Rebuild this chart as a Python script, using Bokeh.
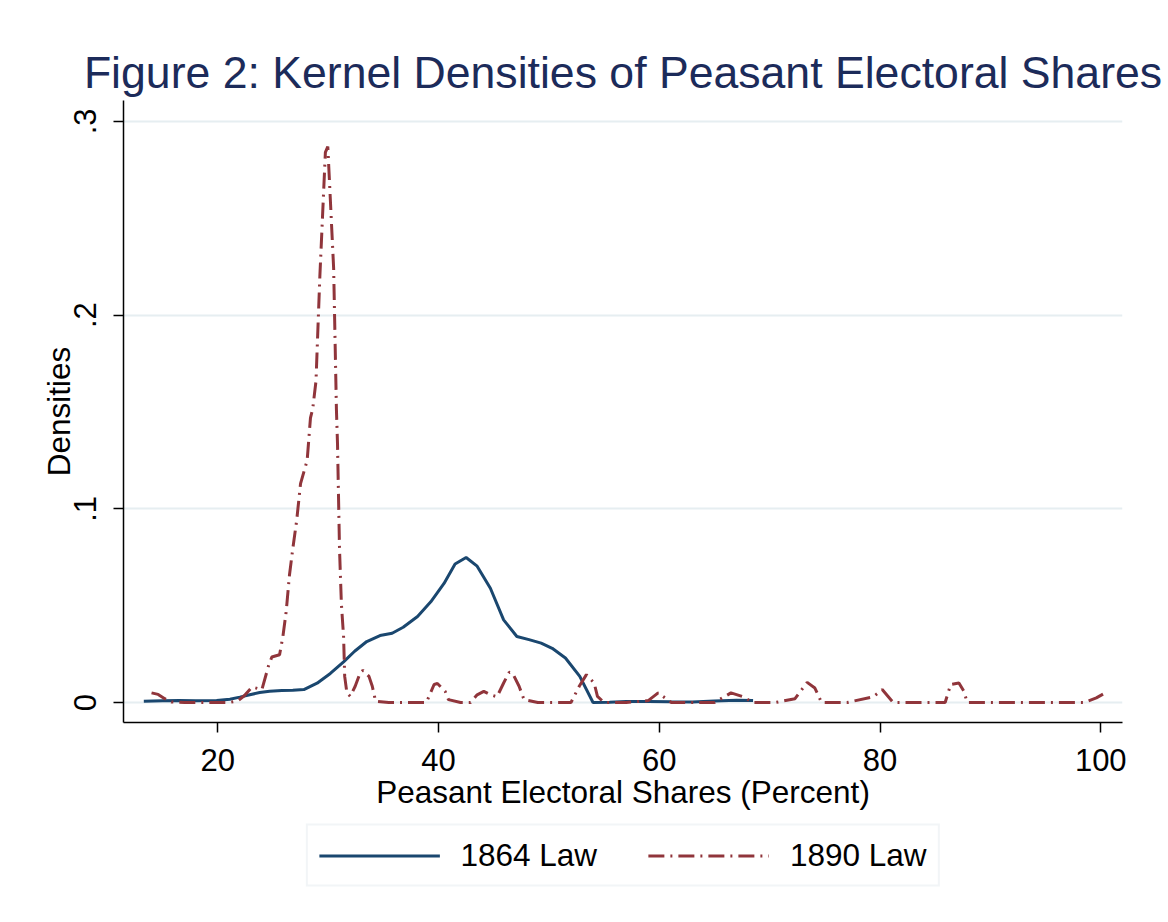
from bokeh.plotting import figure
from bokeh.models import Range1d, FixedTicker, Legend
from bokeh.layouts import column
from bokeh.embed import file_html
from bokeh.resources import INLINE

# ---- data ----
x_1864 = [13.3, 15.0, 16.5, 18.0, 19.9, 21.1, 22.0, 22.9, 23.8, 24.7, 25.8, 26.8, 27.8,
          29.0, 30.2, 31.4, 32.4, 33.5, 34.7, 35.8, 36.8, 38.1, 39.3, 40.5, 41.5, 42.5,
          43.5, 44.7, 45.9, 47.1, 48.2, 49.3, 50.3, 51.5, 52.8, 54.0, 55.5, 57.0, 59.0,
          61.0, 63.0, 65.0, 67.0, 68.5]
d_1864 = [0.0007, 0.0009, 0.0010, 0.0009, 0.0010, 0.0017, 0.0028, 0.0040, 0.0052, 0.0058,
          0.0062, 0.0064, 0.0067, 0.0100, 0.0150, 0.0210, 0.0265, 0.0315, 0.0346, 0.0358,
          0.0389, 0.0444, 0.0520, 0.0615, 0.0715, 0.0749, 0.0704, 0.0590, 0.0427, 0.0341,
          0.0325, 0.0307, 0.0280, 0.0230, 0.0135, 0.0, 0.0002, 0.0005, 0.0006, 0.0004,
          0.0003, 0.0008, 0.0012, 0.0010]

x_1890 = [14.0, 14.6, 15.2, 15.8, 17.0, 19.0, 21.0, 21.8, 22.4, 23.1, 24.0, 24.6, 24.9,
          25.6, 25.9, 26.2, 26.5, 26.8, 27.15, 27.5, 28.1, 28.4, 28.6, 28.9, 29.1, 29.25,
          29.75, 29.97, 30.5, 30.75, 30.85, 31.03, 31.2, 31.4, 31.5, 31.7, 32.0, 32.45,
          32.9, 33.15, 33.7, 34.0, 34.3, 35.5, 37.0, 38.9, 39.6, 39.9, 40.6, 40.9, 42.0,
          42.9, 43.5, 44.1, 44.7, 45.3, 45.9, 46.4, 46.7, 47.3, 47.75, 49.0, 50.5, 52.0,
          52.75, 53.4, 54.1, 54.4, 55.0, 57.0, 59.0, 59.9, 61.1, 63.0, 65.0, 66.5, 67.6,
          68.5, 70.5, 72.3, 73.4, 74.1, 74.7, 77.0, 79.4, 80.2, 81.2, 83.5, 85.9, 86.4,
          87.15, 87.6, 87.9, 90.0, 93.0, 96.0, 98.5, 99.6, 100.4]
d_1890 = [0.0050, 0.0042, 0.0020, 0.0003, 0.0, 0.0, 0.0, 0.0008, 0.0035, 0.0080, 0.0067,
          0.0190, 0.0235, 0.0247, 0.0340, 0.0470, 0.0660, 0.0795, 0.0940, 0.1130, 0.1250,
          0.1470, 0.1515, 0.1660, 0.1970, 0.2200, 0.2840, 0.2870, 0.2240, 0.1515, 0.1335,
          0.0795, 0.0510, 0.0340, 0.0135, 0.0050, 0.0032, 0.0084, 0.0153, 0.0166, 0.0135,
          0.0084, 0.0007, 0.0, 0.0, 0.0, 0.0093, 0.0098, 0.0058, 0.0015, 0.0, 0.0, 0.0040,
          0.0058, 0.0040, 0.0030, 0.0101, 0.0156, 0.0153, 0.0084, 0.0015, 0.0, 0.0, 0.0,
          0.0084, 0.0144, 0.0101, 0.0032, 0.0, 0.0, 0.0010, 0.0050, 0.0, 0.0, 0.0, 0.0050,
          0.0030, 0.0, 0.0, 0.0020, 0.0104, 0.0075, 0.0, 0.0, 0.0030, 0.0067, 0.0, 0.0,
          0.0, 0.0093, 0.0101, 0.0058, 0.0, 0.0, 0.0, 0.0, 0.0, 0.0024, 0.0050]

x_ticks = [20, 40, 60, 80, 100]
y_ticks = [0, 0.1, 0.2, 0.3]
y_tick_labels = ["0", ".1", ".2", ".3"]
series_labels = ["1864 Law", "1890 Law"]

FONT = "Liberation Sans"
BLUE = "#1a476f"
RED = "#90353b"
GRID = "#e6eef1"
DASH = "16 6 2 6"

p = figure(width=1166, height=822, output_backend="svg", toolbar_location=None,
           x_range=Range1d(11.46, 101.97), y_range=Range1d(-0.0103, 0.3108),
           min_border_left=123, min_border_right=44, min_border_top=100,
           min_border_bottom=100)
p.outline_line_color = None
p.background_fill_color = "white"
p.border_fill_color = "white"

p.title.text = "Figure 2: Kernel Densities of Peasant Electoral Shares"
p.title.align = "center"
p.title.text_font = FONT
p.title.text_font_size = "44.6px"
p.title.text_font_style = "normal"
p.title.text_color = "#1c2b5a"
p.title.standoff = 7

r1 = p.line(x_1864, d_1864, line_color=BLUE, line_width=3)
r2 = p.line(x_1890, d_1890, line_color=RED, line_width=3, line_dash=DASH)

xa = p.xaxis[0]
xa.ticker = FixedTicker(ticks=x_ticks)
xa.axis_label = "Peasant Electoral Shares (Percent)"
ya = p.yaxis[0]
ya.ticker = FixedTicker(ticks=y_ticks)
ya.major_label_overrides = {t: l for t, l in zip(y_ticks, y_tick_labels)}
ya.major_label_orientation = "vertical"
ya.axis_label = "Densities"

for ax in (xa, ya):
    ax.axis_line_color = "black"
    ax.axis_line_width = 1.5
    ax.major_tick_line_color = "black"
    ax.major_tick_line_width = 1.5
    ax.major_tick_out = 10
    ax.major_tick_in = 0
    ax.minor_tick_line_color = None
    ax.major_label_text_font = FONT
    ax.major_label_text_font_size = "31px"
    ax.major_label_text_color = "black"
    ax.axis_label_text_font = FONT
    ax.axis_label_text_font_size = "31.5px"
    ax.axis_label_text_font_style = "normal"
    ax.axis_label_text_color = "black"

xa.major_label_standoff = 16
xa.axis_label_standoff = 0
ya.major_label_standoff = 17
ya.axis_label_standoff = -5

p.xgrid.grid_line_color = None
p.ygrid.ticker = FixedTicker(ticks=y_ticks)
p.ygrid.grid_line_color = GRID
p.ygrid.grid_line_width = 2

# ---- legend strip below the plot (its key lines sit outside its visible ranges) ----
q = figure(width=1166, height=66, output_backend="svg", toolbar_location=None,
           x_range=Range1d(-20, -10), y_range=Range1d(-1, 0),
           min_border_left=123, min_border_right=44, min_border_top=0,
           min_border_bottom=0)
q.outline_line_color = None
q.axis.visible = False
q.grid.visible = False
q.border_fill_color = "white"
k1 = q.line(x_1864, d_1864, line_color=BLUE, line_width=3)
k2 = q.line(x_1890, d_1890, line_color=RED, line_width=3, line_dash=DASH)
legend = Legend(items=[(series_labels[0], [k1]), (series_labels[1], [k2])],
                orientation="horizontal", location="center",
                label_text_font=FONT, label_text_font_size="31.5px",
                label_text_color="black",
                glyph_width=121, glyph_height=30, label_standoff=21, spacing=51,
                padding=11, margin=0, border_line_color="#e5ecef", border_line_width=2,
                background_fill_color="white")
q.add_layout(legend, "center")

open("out.html", "w").write(file_html(column(p, q, spacing=0), INLINE))
